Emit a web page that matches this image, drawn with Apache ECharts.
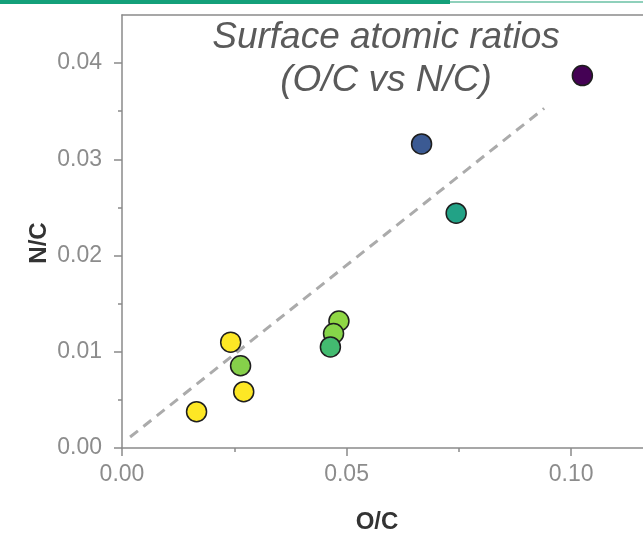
<!DOCTYPE html>
<html lang="en">

<head>
    <meta charset="UTF-8">
    <title>Surface atomic ratios</title>
    <script src="https://cdn.jsdelivr.net/npm/echarts@6.0.0/dist/echarts.min.js"></script>
    <style>
        html, body { margin: 0; padding: 0; background: #fff; }
        #chart { width: 643px; height: 534px; }
    </style>
</head>

<body>
    <div id="chart"></div>
    <script>
        // O/C vs N/C, one point per sample
        var ocValues = [0.1025, 0.0667, 0.0744, 0.0242, 0.0264, 0.0271, 0.0166, 0.0483, 0.0471, 0.0464];
        var ncValues = [0.0387, 0.0316, 0.0244, 0.0110, 0.00855, 0.00585, 0.00377, 0.0132, 0.0119, 0.0105];
        var pointColors = ['#440154', '#3b5a93', '#22a286', '#fde725', '#86d04a', '#fde725', '#fde725', '#8fd744', '#86d549', '#43bb70'];

        // dashed guide line (two end points)
        var guideLine = [[0.0018, 0.00114], [0.094, 0.0353]];

        // ticks
        var xTicks = [0, 0.05, 0.10];
        var xMinorTicks = [0.025, 0.075];
        var yTicks = [0, 0.01, 0.02, 0.03, 0.04];
        var yMinorTicks = [0.005, 0.015, 0.025, 0.035];

        var xMin = 0, xMax = 0.116;
        var yMin = 0, yMax = 0.045;

        var axisColor = '#8a8a8a';
        var labelColor = '#8c8c8c';
        var nameFont = 'bold 24px "Liberation Sans", Arial, sans-serif';
        var titleFont = 'italic 37px "Liberation Sans", Arial, sans-serif';

        var myChart = echarts.init(document.getElementById('chart'));

        var scatterData = [];
        for (var i = 0; i < ocValues.length; i++) {
            scatterData.push({
                value: [ocValues[i], ncValues[i]],
                itemStyle: { color: pointColors[i] }
            });
        }

        var option = {
            animation: false,
            grid: { left: 122, right: 0, top: 15, bottom: 86, outerBoundsMode: 'none', containLabel: false },
            graphic: [
                { type: 'rect', shape: { x: 0, y: 0, width: 450, height: 4 }, style: { fill: '#14a07a' } },
                { type: 'rect', shape: { x: 450, y: 1, width: 193, height: 2 }, style: { fill: '#8fd0bb' } },
                {
                    type: 'text', x: 386, y: 38,
                    style: { text: 'Surface atomic ratios', textAlign: 'center', textVerticalAlign: 'middle', font: titleFont, fill: '#5a5a5a' }
                },
                {
                    type: 'text', x: 386, y: 81,
                    style: { text: '(O/C vs N/C)', textAlign: 'center', textVerticalAlign: 'middle', font: titleFont, fill: '#5a5a5a' }
                },
                // axis names
                {
                    type: 'text', x: 377, y: 522,
                    style: { text: 'O/C', textAlign: 'center', textVerticalAlign: 'middle', font: nameFont, fill: '#333' }
                },
                {
                    type: 'text', x: 39, y: 243, rotation: Math.PI / 2,
                    style: { text: 'N/C', textAlign: 'center', textVerticalAlign: 'middle', font: nameFont, fill: '#333' }
                }
            ],
            xAxis: [{
                type: 'value', min: xMin, max: xMax, position: 'bottom',
                axisLine: { show: true, lineStyle: { color: axisColor, width: 1.5 } },
                axisTick: { show: true, length: 8, customValues: xTicks, lineStyle: { color: axisColor, width: 1.5 } },
                axisLabel: {
                    customValues: xTicks, margin: 15, fontSize: 23, color: labelColor, fontFamily: 'Liberation Sans',
                    formatter: function(v) { return v.toFixed(2); }
                },
                splitLine: { show: false }
            }, {
                type: 'value', min: xMin, max: xMax, position: 'bottom',
                axisLine: { show: false },
                axisTick: { show: true, length: 4, customValues: xMinorTicks, lineStyle: { color: axisColor, width: 1.5 } },
                axisLabel: { show: false },
                splitLine: { show: false }
            }, {
                type: 'value', min: xMin, max: xMax, position: 'top',
                axisLine: { show: true, lineStyle: { color: axisColor, width: 1.5 } },
                axisTick: { show: false },
                axisLabel: { show: false },
                splitLine: { show: false }
            }],
            yAxis: [{
                type: 'value', min: yMin, max: yMax, position: 'left',
                axisLine: { show: true, lineStyle: { color: axisColor, width: 1.5 } },
                axisTick: { show: true, length: 8, customValues: yTicks, lineStyle: { color: axisColor, width: 1.5 } },
                axisLabel: {
                    customValues: yTicks, margin: 20, fontSize: 23, color: labelColor, fontFamily: 'Liberation Sans',
                    formatter: function(v) { return v.toFixed(2); }
                },
                splitLine: { show: false }
            }, {
                type: 'value', min: yMin, max: yMax, position: 'left',
                axisLine: { show: false },
                axisTick: { show: true, length: 4, customValues: yMinorTicks, lineStyle: { color: axisColor, width: 1.5 } },
                axisLabel: { show: false },
                splitLine: { show: false }
            }],
            series: [{
                type: 'line',
                data: guideLine,
                symbol: 'none',
                z: 1,
                lineStyle: { color: '#ababab', width: 3, type: [10, 7] }
            }, {
                type: 'scatter',
                data: scatterData,
                symbolSize: 20,
                z: 2,
                itemStyle: { borderColor: '#1e1e1e', borderWidth: 1.5, opacity: 1 }
            }]
        };

        myChart.setOption(option);
    </script>
</body>

</html>
